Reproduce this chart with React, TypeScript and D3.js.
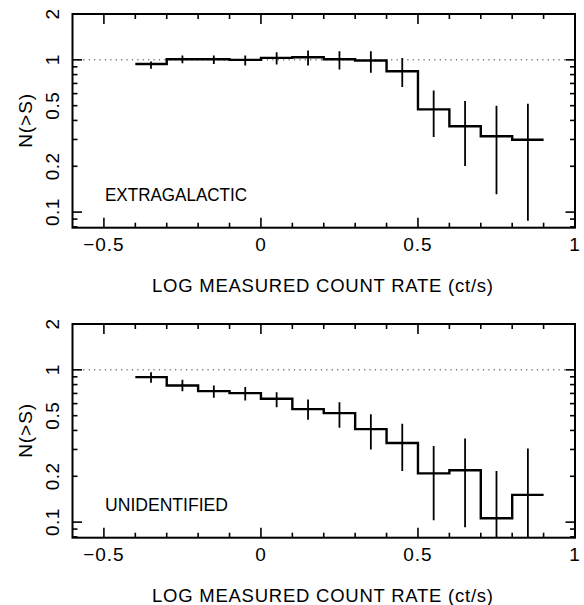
import React from "react";
import * as d3 from "d3";

// Bin left edges (log count rate), bin width 0.1
const binLeft = [-0.4, -0.3, -0.2, -0.1, 0, 0.1, 0.2, 0.3, 0.4, 0.5, 0.6, 0.7, 0.8];
const binWidth = 0.1;

const extraVal = [0.94, 1.01, 1.01, 1.0, 1.03, 1.04, 1.01, 0.99, 0.842, 0.473, 0.366, 0.315, 0.299];
const extraHi = [0.975, 1.067, 1.067, 1.067, 1.121, 1.15, 1.138, 1.138, 1.03, 0.629, 0.536, 0.5, 0.515];
const extraLo = [0.873, 0.95, 0.94, 0.918, 0.932, 0.918, 0.864, 0.822, 0.662, 0.311, 0.201, 0.131, 0.0877];

const unidVal = [0.896, 0.789, 0.725, 0.703, 0.646, 0.552, 0.52, 0.408, 0.331, 0.209, 0.219, 0.106, 0.151];
const unidHi = [0.964, 0.86, 0.789, 0.77, 0.713, 0.639, 0.613, 0.51, 0.443, 0.316, 0.354, 0.217, 0.304];
const unidLo = [0.822, 0.724, 0.656, 0.63, 0.569, 0.47, 0.417, 0.3, 0.217, 0.103, 0.0925, 0.06, 0.06];

const xMajorTicks = [-0.5, 0, 0.5, 1];
const xTickLabels = ["\u22120.5", "0", "0.5", "1"];
const xMinorTicks = [-0.5, -0.4, -0.3, -0.2, -0.1, 0, 0.1, 0.2, 0.3, 0.4, 0.5, 0.6, 0.7, 0.8, 0.9];
const yMajorTicks = [0.1, 1, 2];
const yMinorTicks = [0.08, 0.09, 0.2, 0.3, 0.4, 0.5, 0.6, 0.7, 0.8, 0.9];
const yTickValues = [2, 1, 0.5, 0.2, 0.1];
const yTickLabels = ["2", "1", "0.5", "0.2", "0.1"];

const panels = [
  { name: "EXTRAGALACTIC", nameLen: 142, val: extraVal, hi: extraHi, lo: extraLo },
  { name: "UNIDENTIFIED", nameLen: 123, val: unidVal, hi: unidHi, lo: unidLo },
];

const W = 584;
const H = 605;
const X0 = 72.5;
const X1 = 575;
const PANEL_TOP = [14, 324];
const PANEL_H = 213.7;
const FONT = "'Liberation Sans', Arial, Helvetica, sans-serif";

function Panel({ idx }: { idx: number }) {
  const p = panels[idx];
  const top = PANEL_TOP[idx];
  const bottom = top + PANEL_H;
  const x = d3.scaleLinear().domain([-0.6, 1]).range([X0, X1]);
  const y = d3.scaleLog().domain([0.079, 2]).range([bottom, top]);
  const pts: [number, number][] = binLeft.map((b, i) => [b, p.val[i]]);
  pts.push([binLeft[binLeft.length - 1] + binWidth, p.val[p.val.length - 1]]);
  const line = d3
    .line<[number, number]>()
    .x((d) => x(d[0]))
    .y((d) => y(d[1]))
    .curve(d3.curveStepAfter);
  const clipId = `clip${idx}`;
  return (
    <g>
      <defs>
        <clipPath id={clipId}>
          <rect x={X0} y={top} width={X1 - X0} height={PANEL_H} />
        </clipPath>
      </defs>
      <line
        x1={X0}
        x2={X1}
        y1={y(1)}
        y2={y(1)}
        stroke="#333"
        strokeWidth={1}
        strokeDasharray="1.2,4.2"
      />
      <g clipPath={`url(#${clipId})`}>
        <path d={line(pts) || ""} fill="none" stroke="#000" strokeWidth={2.4} />
        {binLeft.map((b, i) => (
          <line
            key={i}
            x1={x(b + binWidth / 2)}
            x2={x(b + binWidth / 2)}
            y1={y(p.hi[i])}
            y2={y(p.lo[i])}
            stroke="#000"
            strokeWidth={1.8}
          />
        ))}
      </g>
      {xMinorTicks.map((t, i) => {
        const major = xMajorTicks.includes(t);
        const len = major ? 10 : 5;
        return (
          <g key={"xt" + i}>
            <line x1={x(t)} x2={x(t)} y1={bottom} y2={bottom - len} stroke="#000" strokeWidth={1.6} />
            <line x1={x(t)} x2={x(t)} y1={top} y2={top + len} stroke="#000" strokeWidth={1.6} />
          </g>
        );
      })}
      {[...yMajorTicks, ...yMinorTicks].map((t, i) => {
        const major = yMajorTicks.includes(t);
        const len = major ? 9.5 : 5;
        const yy = y(t);
        if (yy < top + 0.5 || yy > bottom - 0.5) return null;
        return (
          <g key={"yt" + i}>
            <line x1={X0} x2={X0 + len} y1={yy} y2={yy} stroke="#000" strokeWidth={1.6} />
            <line x1={X1} x2={X1 - len} y1={yy} y2={yy} stroke="#000" strokeWidth={1.6} />
          </g>
        );
      })}
      <rect x={X0} y={top} width={X1 - X0} height={PANEL_H} fill="none" stroke="#000" strokeWidth={2} />
      {xMajorTicks.map((t, i) => (
        <text
          key={"xl" + i}
          x={x(t)}
          y={bottom + 23.5}
          textAnchor="middle"
          fontSize={19}
          letterSpacing={1}
          fontFamily={FONT}
        >
          {xTickLabels[i]}
        </text>
      ))}
      {yTickValues.map((t, i) => (
        <text
          key={"yl" + i}
          transform={`translate(58.5,${y(t)}) rotate(-90)`}
          textAnchor="middle"
          fontSize={19}
          letterSpacing={0.5}
          fontFamily={FONT}
        >
          {yTickLabels[i]}
        </text>
      ))}
      <text
        transform={`translate(32,${(top + bottom) / 2}) rotate(-90)`}
        textAnchor="middle"
        fontSize={19}
        fontFamily={FONT}
        textLength={54}
        lengthAdjust="spacing"
      >
        N(&gt;S)
      </text>
      <text
        x={(152 + 493) / 2}
        y={bottom + 64}
        textAnchor="middle"
        fontSize={18.5}
        fontFamily={FONT}
        textLength={341}
        lengthAdjust="spacing"
      >
        LOG MEASURED COUNT RATE (ct/s)
      </text>
      <text
        x={105}
        y={top + 187}
        fontSize={18}
        fontFamily={FONT}
        textLength={p.nameLen}
        lengthAdjust="spacingAndGlyphs"
      >
        {p.name}
      </text>
    </g>
  );
}

export default function App() {
  return (
    <svg
      width={W}
      height={H}
      viewBox={`0 0 ${W} ${H}`}
      style={{ position: "absolute", left: 0, top: 0, background: "#fff" }}
    >
      <rect x={0} y={0} width={W} height={H} fill="#fff" />
      <Panel idx={0} />
      <Panel idx={1} />
    </svg>
  );
}
